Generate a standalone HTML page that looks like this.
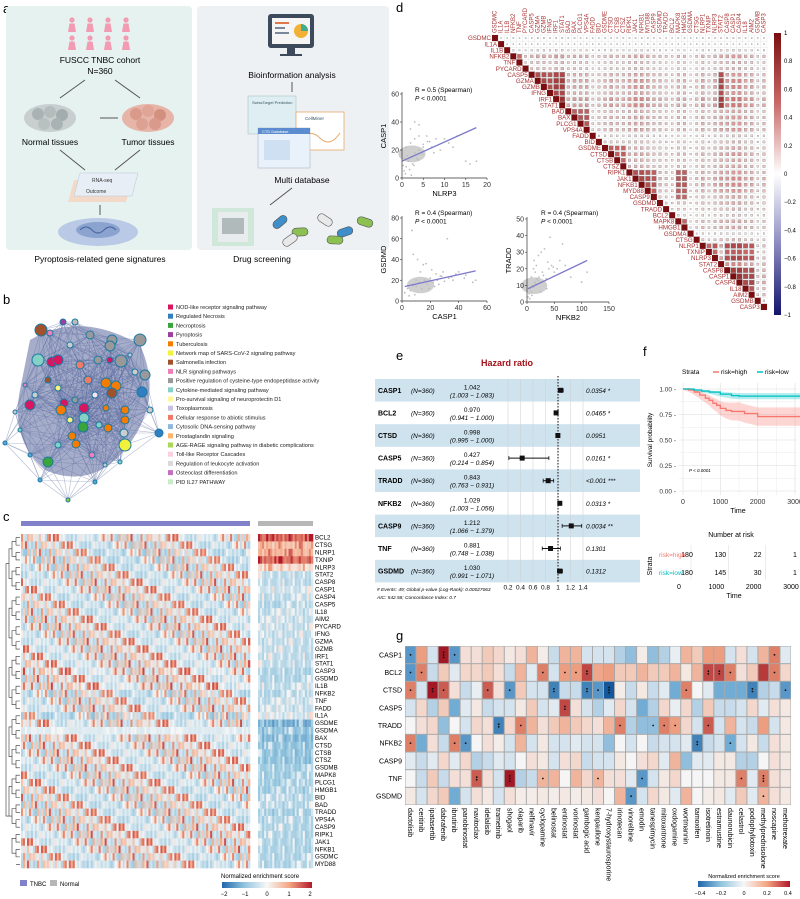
<!DOCTYPE html>
<html><head><meta charset="utf-8">
<style>
html,body{margin:0;padding:0;background:#fff;}
svg{display:block;font-family:"Liberation Sans",sans-serif;}
</style></head>
<body>
<svg id="fig" width="800" height="899" viewBox="0 0 800 899" xmlns="http://www.w3.org/2000/svg">
<!-- Panel a -->
<g>
  <text x="3" y="13" font-size="13">a</text>
  <rect x="6" y="6" width="186" height="244" rx="4" fill="#e5f2f0"/>
  <rect x="197" y="6" width="192" height="244" rx="4" fill="#eef1f4"/>
  <g id="people"></g>
  <text x="100" y="63" font-size="8.5" text-anchor="middle">FUSCC TNBC cohort</text>
  <text x="100" y="74" font-size="8.5" text-anchor="middle">N=360</text>
  <path d="M85 80 L60 98 M115 80 L140 98" stroke="#555" stroke-width="1" fill="none"/>
  <g>
    <ellipse cx="50" cy="118" rx="26" ry="14" fill="#c9cfcf"/>
    <circle cx="38" cy="114" r="6" fill="#aab3b3"/><circle cx="50" cy="112" r="6" fill="#b5bcbc"/><circle cx="62" cy="115" r="6" fill="#a3adad"/><circle cx="44" cy="124" r="6" fill="#b9c0c0"/><circle cx="57" cy="124" r="6" fill="#aab3b3"/>
  </g>
  <g>
    <ellipse cx="148" cy="118" rx="26" ry="14" fill="#e7b4a8"/>
    <circle cx="136" cy="114" r="6" fill="#d99a8c"/><circle cx="148" cy="111" r="6" fill="#e0a596"/><circle cx="160" cy="115" r="6" fill="#d3907f"/><circle cx="142" cy="124" r="6" fill="#dca193"/><circle cx="155" cy="124" r="6" fill="#d99a8c"/>
  </g>
  <text x="50" y="145" font-size="8.5" text-anchor="middle">Normal tissues</text>
  <text x="148" y="145" font-size="8.5" text-anchor="middle">Tumor tissues</text>
  <path d="M100 118 L118 118 M60 150 L85 170 M140 150 L115 170 M100 205 L100 215" stroke="#555" stroke-width="1" fill="none"/>
  <g>
    <polygon points="68,202 126,202 132,180 74,180" fill="#f3d9c8"/>
    <polygon points="74,196 132,196 138,173 80,173" fill="#e7eef5" stroke="#b9c7d6" stroke-width="0.5"/>
    <text x="92" y="182" font-size="5" fill="#333">RNA-seq</text>
    <text x="86" y="193" font-size="5" fill="#333">Outcome</text>
  </g>
  <g>
    <ellipse cx="98" cy="232" rx="40" ry="14" fill="#b9c9e6"/>
    <ellipse cx="98" cy="230" rx="22" ry="8" fill="#8aa3cf"/>
    <path d="M80 230 q6 -6 12 0 t12 0 t12 0" stroke="#4e6aa5" fill="none" stroke-width="1.2"/>
  </g>
  <text x="100" y="262" font-size="8.5" text-anchor="middle">Pyroptosis-related gene signatures</text>
  <g>
    <rect x="268" y="14" width="46" height="34" rx="3" fill="#3c4a5c"/>
    <rect x="272" y="18" width="38" height="26" fill="#f5f5f5"/>
    <rect x="275" y="22" width="14" height="2" fill="#e0784c"/><rect x="275" y="27" width="10" height="2" fill="#7a8899"/><rect x="275" y="32" width="14" height="2" fill="#7a8899"/>
    <circle cx="301" cy="31" r="7" fill="#f2b134"/><path d="M301 31 L301 24 A7 7 0 0 1 308 31 Z" fill="#3fae8c"/>
    <rect x="287" y="48" width="8" height="6" fill="#3c4a5c"/><rect x="280" y="54" width="22" height="2" fill="#3c4a5c"/>
  </g>
  <text x="292" y="78" font-size="8.5" text-anchor="middle">Bioinformation analysis</text>
  <path d="M292 82 L292 92" stroke="#555"/>
  <g>
    <rect x="248" y="96" width="48" height="38" fill="#dfeef2" stroke="#9bb" stroke-width="0.5"/>
    <text x="252" y="104" font-size="4" fill="#356">SwissTarget Prediction</text>
    <rect x="296" y="112" width="48" height="38" fill="#fff" stroke="#e8a76a" stroke-width="0.8"/>
    <text x="305" y="120" font-size="4.5" fill="#356">CellMiner</text>
    <path d="M300 140 q10 -12 20 -2 t20 -5" stroke="#e8a76a" fill="none"/>
    <rect x="258" y="128" width="52" height="40" fill="#e9f1fb" stroke="#9ab" stroke-width="0.5"/>
    <rect x="258" y="128" width="52" height="6" fill="#5a8ccf"/>
    <text x="262" y="133" font-size="4" fill="#fff">CTD Database</text>
    <rect x="264" y="140" width="26" height="20" fill="#cfe0f2"/>
  </g>
  <text x="302" y="183" font-size="8.5" text-anchor="middle">Multi database</text>
  <path d="M292 188 L270 205" stroke="#555"/>
  <g>
    <rect x="212" y="208" width="42" height="38" fill="#cfe8d9"/>
    <rect x="218" y="212" width="30" height="30" fill="#e8ecec"/>
    <rect x="222" y="218" width="22" height="16" fill="#8a9a9a" opacity="0.6"/>
    <g id="pills"></g>
  </g>
  <text x="262" y="262" font-size="8.5" text-anchor="middle">Drug screening</text>
</g>

<!-- Panel b -->
<g>
  <text x="3" y="304" font-size="13">b</text>
  <g id="network"></g>
  <g id="blegend"></g>
</g>

<!-- Panel c -->
<g>
  <text x="3" y="521" font-size="13">c</text>
  <rect x="21" y="521" width="229" height="5" fill="#8181c9"/>
  <rect x="258" y="521" width="55" height="5" fill="#b7b7b7"/>
  <g id="heatc"></g>
  <g id="dendro"></g>
  <g id="cgenes"></g>
  <rect x="20" y="880" width="7" height="6" fill="#8181c9"/>
  <text x="30" y="886" font-size="6">TNBC</text>
  <rect x="50" y="880" width="7" height="6" fill="#b7b7b7"/>
  <text x="60" y="886" font-size="6">Normal</text>
  <text x="221" y="878" font-size="6">Normalized enrichment score</text>
  <defs>
    <linearGradient id="rdbu" x1="0" x2="1" y1="0" y2="0">
      <stop offset="0" stop-color="#2166ac"/><stop offset="0.25" stop-color="#92c5de"/><stop offset="0.5" stop-color="#f7f7f7"/><stop offset="0.75" stop-color="#f4a582"/><stop offset="1" stop-color="#b2182b"/>
    </linearGradient>
    <linearGradient id="corrgrad" x1="0" x2="0" y1="0" y2="1">
      <stop offset="0" stop-color="#7a0d10"/><stop offset="0.25" stop-color="#c96a6a"/><stop offset="0.5" stop-color="#ffffff"/><stop offset="0.75" stop-color="#8a8ac0"/><stop offset="1" stop-color="#14146e"/>
    </linearGradient>
  </defs>
  <rect x="222" y="882" width="90" height="6" fill="url(#rdbu)"/>
  <g font-size="6" text-anchor="middle">
    <text x="224" y="896">−2</text><text x="245" y="896">−1</text><text x="267" y="896">0</text><text x="289" y="896">1</text><text x="310" y="896">2</text>
  </g>
</g>

<!-- Panel d -->
<g>
  <text x="396" y="12" font-size="13">d</text>
  <g id="corr"></g>
  <rect x="774" y="33" width="7" height="282" fill="url(#corrgrad)"/>
  <g id="corrticks" font-size="6"></g>
  <g id="scatters"></g>
</g>

<!-- Panel e -->
<g>
  <text x="396" y="360" font-size="13">e</text>
  <text x="507" y="366" font-size="9" font-weight="bold" fill="#a3111a" text-anchor="middle">Hazard ratio</text>
  <g id="forest"></g>
</g>

<!-- Panel f -->
<g>
  <text x="643" y="356" font-size="13">f</text>
  <g id="km"></g>
</g>

<!-- Panel g -->
<g>
  <text x="396" y="640" font-size="13">g</text>
  <g id="gheat"></g>
  <text x="744" y="878" font-size="5.5" text-anchor="middle">Normalized enrichment score</text>
  <rect x="698" y="881" width="92" height="6" fill="url(#rdbu)"/>
  <g font-size="5.5" text-anchor="middle">
    <text x="700" y="895">−0.4</text><text x="721" y="895">−0.2</text><text x="744" y="895">0</text><text x="767" y="895">0.2</text><text x="788" y="895">0.4</text>
  </g>
</g>
</svg>

<script>
const NS="http://www.w3.org/2000/svg";
function mk(parent,tag,attrs,text){const e=document.createElementNS(NS,tag);for(const k in attrs)e.setAttribute(k,attrs[k]);if(text!==undefined)e.textContent=text;parent.appendChild(e);return e;}
function lerp(a,b,t){return a+(b-a)*t;}
function hex(h){return [parseInt(h.substr(1,2),16),parseInt(h.substr(3,2),16),parseInt(h.substr(5,2),16)];}
function ramp(stops,t){t=Math.max(0,Math.min(1,t));const n=stops.length-1;const i=Math.min(n-1,Math.floor(t*n));const f=t*n-i;const a=hex(stops[i]),b=hex(stops[i+1]);return "rgb("+[0,1,2].map(k=>Math.round(lerp(a[k],b[k],f))).join(",")+")";}
const RDBU=["#2166ac","#92c5de","#f7f7f7","#f4a582","#b2182b"];
const RDBU_G=["#0b4f94","#6aa8d3","#f5f5f5","#ee9a7a","#9b0a1c"];
const CORR=["#14146e","#8a8ac0","#ffffff","#c96a6a","#7a0d10"];

/* ---------- panel a decorations ---------- */
const ppl=document.getElementById('people');
for(let r=0;r<2;r++)for(let i=0;i<4;i++){
  const x=72+i*18, y=20+r*18;
  mk(ppl,'circle',{cx:x,cy:y,r:2.6,fill:'#f29bb2'});
  mk(ppl,'path',{d:`M${x-4} ${y+12} L${x-2.5} ${y+3.5} L${x+2.5} ${y+3.5} L${x+4} ${y+12} Z`,fill:'#f29bb2'});
}
const pills=document.getElementById('pills');
[[280,222,'#3d8ec9'],[300,232,'#8cc152'],[325,220,'#e9e9e9'],[345,232,'#3d8ec9'],[365,222,'#8cc152'],[290,240,'#e9e9e9'],[335,240,'#8cc152']].forEach((p,i)=>{
  mk(pills,'rect',{x:p[0]-8,y:p[1]-4,width:16,height:8,rx:4,fill:p[2],stroke:'#555','stroke-width':0.6,transform:`rotate(${i*37%90-40} ${p[0]} ${p[1]})`});
});

/* ---------- panel b network ---------- */
const netNodes=[[41,330,6,'#a0522d'],[63,322,3,'#9b3fa0'],[75,322,3,'#bbb'],[50,333,3,'#f07fb5'],[90,335,4,'#999'],[112,340,5,'#999'],[110,346,5,'#999'],[140,340,6,'#999'],[38,360,6,'#86d1c5'],[52,362,5,'#d9155f'],[58,360,5,'#d9155f'],[80,365,4,'#f07a68'],[98,360,4,'#999'],[110,360,3,'#d9155f'],[121,361,6,'#999'],[145,375,5,'#999'],[106,383,5,'#f57c00'],[116,386,5,'#f57c00'],[112,393,5,'#a0522d'],[142,392,5,'#2f7fc1'],[30,405,5,'#d9155f'],[64,403,4,'#d9155f'],[84,408,5,'#d9155f'],[84,418,5,'#86d1c5'],[106,408,3,'#f57c00'],[61,410,5,'#f57c00'],[75,400,3,'#999'],[125,410,4,'#f57c00'],[125,420,4,'#f57c00'],[83,427,5,'#3aa53a'],[99,425,3,'#86d1c5'],[108,428,4,'#f57c00'],[124,433,4,'#ccc'],[125,445,6,'#f2f23a'],[159,433,4,'#2f7fc1'],[72,436,4,'#f57c00'],[76,444,4,'#f57c00'],[48,462,5,'#3aa53a'],[5,443,2,'#5aa7d8'],[68,500,2,'#9acd32'],[95,482,2,'#5aa7d8'],[40,480,2,'#5aa7d8'],[20,430,2,'#86d1c5'],[15,412,2,'#ccc'],[25,385,2,'#f07fb5'],[35,395,3,'#ccc'],[58,388,3,'#fff27a'],[95,395,3,'#ffe4f0'],[130,355,2,'#ccc'],[70,345,3,'#ccc'],[58,445,3,'#86d1c5'],[92,455,3,'#f07fb5'],[105,465,2,'#ccc'],[120,462,2,'#86d1c5'],[30,455,2,'#5aa7d8'],[150,410,3,'#ccc'],[135,372,3,'#ccc'],[48,380,3,'#a0522d'],[88,380,4,'#f07a68'],[70,420,3,'#fff27a']];
const net=document.getElementById('network');
mk(net,'path',{d:'M30 340 Q80 310 140 345 Q165 400 125 450 Q90 490 45 470 Q10 440 20 390 Z',fill:'#5b6a9e',opacity:0.55});
for(let i=0;i<netNodes.length;i++)for(let j=i+1;j<netNodes.length;j++){
  const a=netNodes[i],b=netNodes[j];const d=Math.hypot(a[0]-b[0],a[1]-b[1]);
  if(d<60)mk(net,'line',{x1:a[0],y1:a[1],x2:b[0],y2:b[1],stroke:'#5b6a9e','stroke-width':0.6,opacity:0.45});
}
netNodes.forEach((n,i)=>{const c=mk(net,'circle',{cx:n[0],cy:n[1],r:n[2],fill:n[3],stroke:'#1b7aa5','stroke-width':1});

});

const legendNames=["NOD-like receptor signaling pathway","Regulated Necrosis","Necroptosis","Pyroptosis","Tuberculosis","Network map of SARS-CoV-2 signaling pathway","Salmonella infection","NLR signaling pathways","Positive regulation of cysteine-type endopeptidase activity","Cytokine-mediated signaling pathway","Pro-survival signaling of neuroprotectin D1","Toxoplasmosis","Cellular response to abiotic stimulus","Cytosolic DNA-sensing pathway","Prostaglandin signaling","AGE-RAGE signaling pathway in diabetic complications","Toll-like Receptor Cascades","Regulation of leukocyte activation","Osteoclast differentiation","PID IL27 PATHWAY"];
const legendColors=["#d9155f","#2f7fc1","#3aa53a","#9b3fa0","#f57c00","#f2f23a","#a0522d","#f07fb5","#999999","#86d1c5","#fff79a","#c7c0e3","#f07a68","#8fb8de","#fdb36b","#a6d854","#fbcfe0","#d9d9d9","#c36fc4","#c8ecc8"];
const bl=document.getElementById('blegend');
legendNames.forEach((n,i)=>{const y=309+i*9.2;
 const s=mk(bl,'rect',{x:168,y:y-4.5,width:5,height:5,fill:legendColors[i]});
 
 
 const t=mk(bl,'text',{x:176,y:y,'font-size':5.6,fill:'#222'},n);
 
 });

/* ---------- panel c heatmap ---------- */
const cGenes=["BCL2","CTSG","NLRP1","TXNIP","NLRP3","STAT2","CASP8","CASP1","CASP4","CASP5","IL18","AIM2","PYCARD","IFNG","GZMA","GZMB","IRF1","STAT1","CASP3","GSDMD","IL1B","NFKB2","TNF","FADD","IL1A","GSDME","GSDMA","BAX","CTSD","CTSB","CTSZ","GSDMB","MAPK8","PLCG1","HMGB1","BID","BAD","TRADD","VPS4A","CASP9","RIPK1","JAK1","NFKB1","GSDMC","MYD88"];
const cRowTumor=[0.0,-0.1,-0.2,-0.2,-0.1,-0.1,0.0,0.0,-0.1,-0.1,-0.1,0.0,0.0,-0.1,0.0,0.0,0.0,0.0,0.1,0.0,0.1,-0.2,-0.1,0.0,-0.3,0.0,-0.8,0.0,0.0,0.0,0.0,0.0,-0.1,0.0,-0.1,-0.1,-0.1,-0.1,-0.1,0.0,0.0,0.0,0.0,-0.1,-0.1];
const cRowNormal=[1.0,0.5,0.6,1.0,0.3,-0.3,-0.3,-0.2,-0.3,-0.4,-0.3,-0.3,-0.3,-0.3,-0.3,-0.3,-0.3,-0.3,-0.4,-0.4,-0.3,-0.4,-0.3,-0.3,-0.2,-0.8,-0.6,-0.7,-0.6,-0.6,-0.6,-0.5,-0.5,-0.5,-0.5,-0.4,-0.4,-0.5,-0.4,-0.4,-0.4,-0.4,-0.4,-0.4,-0.4];
const cColPattern=[1.6,-0.6,-0.3,0.9,-0.8,-0.2,2.0,-0.5,0.4,-0.9,-0.3,1.3,-0.6,0.2,-0.7,1.8,-0.4,-0.2,0.6,-1.0,-0.4,1.1,-0.5,0.3,-0.8,2.2,-0.6,-0.1,0.7,-0.9,-0.3,1.5,-0.7,0.1,-0.5,0.9,-1.1,-0.2,1.9,-0.4,0.5,-0.8,-0.3,1.2,-0.6,0.0,-0.9,1.7,-0.5,0.4,-0.7,-0.2,2.1,-0.6,0.3,-1.0,-0.4,0.8,-0.5,1.4];
const hc=document.getElementById('heatc');
const rowH=(868-534)/cGenes.length;
const nT=115,wT=229/nT;
for(let r=0;r<cGenes.length;r++){
  for(let c=0;c<nT;c++){
    let v=cRowTumor[r]+0.8*cColPattern[(c*7+r*11)%cColPattern.length];
    if(r===26) v=v*0.15-0.1;
    mk(hc,'rect',{x:(21+c*wT).toFixed(2),y:(534+r*rowH).toFixed(2),width:(wT+0.3).toFixed(2),height:(rowH+0.3).toFixed(2),fill:ramp(RDBU,(v/2.2+1)/2)});
  }
  const nN=27,wN=55/nN;
  for(let c=0;c<nN;c++){
    const v=cRowNormal[r]*1.6+0.35*cColPattern[(c*13+r*5)%cColPattern.length];
    mk(hc,'rect',{x:(258+c*wN).toFixed(2),y:(534+r*rowH).toFixed(2),width:(wN+0.3).toFixed(2),height:(rowH+0.3).toFixed(2),fill:ramp(RDBU,(v/2.2+1)/2)});
  }
  const t=mk(document.getElementById('cgenes'),'text',{x:315,y:(534+(r+0.75)*rowH).toFixed(2),'font-size':6.2},cGenes[r]);
  
  
}
const dg=document.getElementById('dendro');
let dpath='';
for(let r=0;r<cGenes.length;r+=2){const y1=534+(r+0.5)*rowH,y2=534+Math.min(r+1.5,cGenes.length-0.5)*rowH;dpath+=`M20 ${y1} H16 V${y2} H20 `;}
for(let r=0;r<cGenes.length-3;r+=4){const y1=534+(r+1)*rowH,y2=534+(r+3)*rowH;dpath+=`M16 ${y1} H12 V${y2} H16 `;}
for(let r=0;r<cGenes.length-7;r+=8){const y1=534+(r+2)*rowH,y2=534+(r+6)*rowH;dpath+=`M12 ${y1} H9 V${y2} H12 `;}
dpath+=`M9 ${534+4*rowH} H6 V${534+38*rowH} H9`;
mk(dg,'path',{d:dpath,stroke:'#333','stroke-width':0.6,fill:'none'});

/* ---------- panel d correlation matrix ---------- */
const dGenes=["GSDMC","IL1A","IL1B","NFKB2","TNF","PYCARD","CASP5","GZMA","GZMB","IFNG","IRF1","STAT1","BAD","BAX","PLCG1","VPS4A","FADD","BID","GSDME","CTSD","CTSB","CTSZ","RIPK1","JAK1","NFKB1","MYD88","CASP9","GSDMD","TRADD","BCL2","MAPK8","HMGB1","GSDMA","CTSG","NLRP1","TXNIP","NLRP3","STAT2","CASP8","CASP1","CASP4","IL18","AIM2","GSDMB","CASP3"];
const dLoad=[0.1,0.05,0.2,0.6,0.4,0.4,0.6,0.7,0.7,0.6,0.8,0.8,0.5,0.6,0.6,0.6,0.3,0.4,0.5,0.6,0.5,0.5,0.6,0.7,0.7,0.6,0.5,0.5,0.4,0.3,0.5,0.5,0.2,0.4,0.6,0.4,0.6,0.7,0.7,0.8,0.8,0.6,0.6,0.3,0.5];
const dCluster=[0,0,0,1,1,2,3,3,3,3,3,3,4,4,4,4,0,0,5,5,5,5,6,6,6,6,6,0,0,0,6,6,0,0,7,7,7,3,7,7,7,7,7,0,0];
const corr=document.getElementById('corr');
const cx0=492,cy0=35,cs=(767-492)/dGenes.length;
for(let i=0;i<dGenes.length;i++){
  for(let j=i;j<dGenes.length;j++){
    const x=cx0+j*cs,y=cy0+i*cs;
    mk(corr,'rect',{x:x.toFixed(2),y:y.toFixed(2),width:cs.toFixed(2),height:cs.toFixed(2),fill:'#fff',stroke:'#ddd','stroke-width':0.3});
    let v = (i===j)?1:dLoad[i]*dLoad[j]*0.7+((dCluster[i]===dCluster[j]&&dCluster[i]!==0)?0.35:0);
    v=Math.min(1,v);
    const s=(i===j)?cs:Math.max(1,cs*Math.sqrt(Math.abs(v))*0.95);
    const q=mk(corr,'rect',{x:(x+(cs-s)/2).toFixed(2),y:(y+(cs-s)/2).toFixed(2),width:s.toFixed(2),height:s.toFixed(2),fill:ramp(CORR,(v+1)/2),stroke:i===j?'none':'#777','stroke-width':0.3});
    
    
  }
  const rl=mk(corr,'text',{x:(cx0+i*cs-1).toFixed(2),y:(cy0+(i+0.85)*cs).toFixed(2),'font-size':6.2,fill:'#a83232','text-anchor':'end'},dGenes[i]);
  
  
  const cx=cx0+(i+0.75)*cs;
  const cl=mk(corr,'text',{x:cx.toFixed(2),y:33,'font-size':6,fill:'#a83232',transform:`rotate(-90 ${cx.toFixed(2)} 33)`},dGenes[i]);
  
  
}
const corrTicks=[1,0.8,0.6,0.4,0.2,0,-0.2,-0.4,-0.6,-0.8,-1];
const ct=document.getElementById('corrticks');
corrTicks.forEach(t=>{const y=33+(1-t)/2*282;mk(ct,'text',{x:784,y:y+2},String(t).replace('-','−'));});

const sc1X=[0.5,1,1.5,2,2.5,3,3.5,4,1,2,3,4,5,6,7,8,0.8,1.8,2.8,3.8,4.8,5.8,9,10,11,12,13,15,16,17.5,2,3,4,5,1.2,2.2,6.5,7.5,0.3,0.6];
const sc1Y=[5,8,12,15,10,18,14,20,22,25,28,30,24,26,22,28,3,6,9,13,17,30,20,28,25,22,30,12,10,12,35,40,38,22,16,2,26,18,9,14];
const sc2X=[2,4,6,8,10,12,14,16,18,20,22,25,28,30,33,36,40,45,50,52,5,9,13,17,21,24,27,8,11,15,19,23,26,29,32,7,10,35,38,44];
const sc2Y=[8,12,10,15,14,18,12,20,16,22,18,20,24,19,22,20,28,25,18,20,5,6,28,36,30,26,24,45,40,35,12,14,16,28,60,68,20,23,26,22];
const sc3X=[2,4,6,8,10,12,14,16,18,20,22,25,28,30,35,40,45,50,55,60,70,80,100,110,5,9,13,17,21,26,32,38,42,48,15,25,36,65,12,8];
const sc3Y=[3,5,8,6,10,9,12,11,14,13,15,12,18,16,14,20,22,18,20,25,22,15,12,18,2,4,25,22,28,30,32,24,39,21,18,6,8,35,20,15];
const scatterSpecs=[
 {xs:sc1X,ys:sc1Y,x0:402,x1:487,xmax:20,y0:178,y1:94,ymax:60,xt:[0,5,10,15,20],yt:[0,20,40,60],xl:'NLRP3',yl:'CASP1',r:'R = 0.5 (Spearman)',line:[0,12,17.5,36],tx:415,ty:92},
 {xs:sc2X,ys:sc2Y,x0:402,x1:487,xmax:60,y0:301,y1:218,ymax:80,xt:[0,20,40,60],yt:[0,20,40,60,80],xl:'CASP1',yl:'GSDMD',r:'R = 0.4 (Spearman)',line:[2,14,52,29],tx:415,ty:215},
 {xs:sc3X,ys:sc3Y,x0:527,x1:609,xmax:150,y0:302,y1:219,ymax:50,xt:[0,50,100,150],yt:[0,10,20,30,40,50],xl:'NFKB2',yl:'TRADD',r:'R = 0.4 (Spearman)',line:[2,8,110,25],tx:541,ty:215}
];
const scg=document.getElementById('scatters');
scatterSpecs.forEach((s,k)=>{
  const g=mk(scg,'g',{});
  
  
  const X=v=>s.x0+(s.x1-s.x0)*v/s.xmax, Y=v=>s.y0+(s.y1-s.y0)*v/s.ymax;
  mk(g,'ellipse',{cx:X(s.xs.slice(0,12).reduce((a,b)=>a+b)/12),cy:Y(s.ys.slice(0,12).reduce((a,b)=>a+b)/12),rx:(s.x1-s.x0)*0.16,ry:(s.y0-s.y1)*0.1,fill:'#cfcfcf'});
  s.xs.forEach((v,i)=>{const p=mk(g,'circle',{cx:X(v),cy:Y(s.ys[i]),r:0.9,fill:'#bdbdbd'});
    
    });
  mk(g,'line',{x1:X(s.line[0]),y1:Y(s.line[1]),x2:X(s.line[2]),y2:Y(s.line[3]),stroke:'#7b78c9','stroke-width':1.3});
  mk(g,'path',{d:`M${s.x0} ${s.y1-2} V${s.y0} H${s.x1}`,stroke:'#333','stroke-width':0.7,fill:'none'});
  s.xt.forEach(t=>{mk(g,'line',{x1:X(t),x2:X(t),y1:s.y0,y2:s.y0+2,stroke:'#333','stroke-width':0.6});mk(g,'text',{x:X(t),y:s.y0+9,'font-size':7,'text-anchor':'middle',fill:'#333'},t);});
  s.yt.forEach(t=>{mk(g,'line',{x1:s.x0-2,x2:s.x0,y1:Y(t),y2:Y(t),stroke:'#333','stroke-width':0.6});mk(g,'text',{x:s.x0-3,y:Y(t)+2.5,'font-size':7,'text-anchor':'end',fill:'#333'},t);});
  mk(g,'text',{x:(s.x0+s.x1)/2,y:s.y0+18,'font-size':7.5,'text-anchor':'middle'},s.xl);
  const yx=s.x0-16,yy=(s.y0+s.y1)/2;
  mk(g,'text',{x:yx,y:yy,'font-size':7.5,'text-anchor':'middle',transform:`rotate(-90 ${yx} ${yy})`},s.yl);
  mk(g,'text',{x:s.tx,y:s.ty,'font-size':6.5},s.r);
  const pt=mk(g,'text',{x:s.tx,y:s.ty+8.5,'font-size':6.5});
  mk(pt,'tspan',{'font-style':'italic'},'P');mk(pt,'tspan',{},' < 0.0001');
});

/* ---------- panel e forest ---------- */
const feGenes=["CASP1","BCL2","CTSD","CASP5","TRADD","NFKB2","CASP9","TNF","GSDMD"];
const feHR=[1.042,0.970,0.998,0.427,0.843,1.029,1.212,0.881,1.030];
const feLo=[1.003,0.941,0.995,0.214,0.763,1.003,1.066,0.748,0.991];
const feHi=[1.083,1.000,1.000,0.854,0.931,1.056,1.379,1.038,1.071];
const feP=["0.0354 *","0.0465 *","0.0951","0.0161 *","<0.001 ***","0.0313 *","0.0034 **","0.1301","0.1312"];
const feTicks=[0.2,0.4,0.6,0.8,1,1.2,1.4];
const fo=document.getElementById('forest');
const FX=v=>558+(v-1)*62.5;
const rowE=22.6, eTop=379;
feGenes.forEach((g,i)=>{const y=eTop+i*rowE;
  if(i%2===0) mk(fo,'rect',{x:375,y:y,width:265,height:rowE,fill:'#cfe3ef'});
});
feTicks.forEach(t=>{mk(fo,'line',{x1:FX(t),x2:FX(t),y1:eTop,y2:eTop+9*rowE,stroke:'#ccc','stroke-width':0.5});
  mk(fo,'text',{x:FX(t),y:eTop+9*rowE+7,'font-size':6.5,'text-anchor':'middle'},t);});
mk(fo,'line',{x1:FX(1),x2:FX(1),y1:eTop-3,y2:eTop+9*rowE,stroke:'#111','stroke-width':1,'stroke-dasharray':'1.5,1.5'});
feGenes.forEach((g,i)=>{const y=eTop+i*rowE, cy=y+rowE/2;
  const gt=mk(fo,'text',{x:378,y:cy+2.5,'font-size':7,'font-weight':'bold'},g);
  
  
  mk(fo,'text',{x:411,y:cy+2.5,'font-size':6.5,'font-style':'italic'},'(N=360)');
  mk(fo,'text',{x:472,y:cy-1,'font-size':6.5,'text-anchor':'middle'},feHR[i].toFixed(3));
  mk(fo,'text',{x:472,y:cy+7,'font-size':6.5,'text-anchor':'middle','font-style':'italic'},'('+feLo[i].toFixed(3)+' − '+feHi[i].toFixed(3)+')');
  mk(fo,'line',{x1:FX(feLo[i]),x2:FX(feHi[i]),y1:cy,y2:cy,stroke:'#111','stroke-width':1});
  mk(fo,'line',{x1:FX(feLo[i]),x2:FX(feLo[i]),y1:cy-2,y2:cy+2,stroke:'#111','stroke-width':0.8});
  mk(fo,'line',{x1:FX(feHi[i]),x2:FX(feHi[i]),y1:cy-2,y2:cy+2,stroke:'#111','stroke-width':0.8});
  const m=mk(fo,'rect',{x:FX(feHR[i])-2.5,y:cy-2.5,width:5,height:5,fill:'#111'});
  
  
  mk(fo,'text',{x:586,y:cy+2.5,'font-size':6.5,'font-style':'italic'},feP[i]);
});
mk(fo,'text',{x:377,y:591,'font-size':4.8,'font-style':'italic'},'# Events: 49; Global p-value (Log-Rank): 0.00027063');
mk(fo,'text',{x:377,y:599,'font-size':4.8,'font-style':'italic'},'AIC: 542.58; Concordance Index: 0.7');

/* ---------- panel f KM ---------- */
const kmHighT=[0,150,300,450,600,700,800,900,1000,1150,1300,1500,1650,2000,3150];
const kmHighS=[1,0.99,0.97,0.94,0.91,0.89,0.86,0.84,0.81,0.79,0.78,0.78,0.76,0.73,0.73];
const kmLowT=[0,300,500,700,1000,1300,1500,3150];
const kmLowS=[1,0.99,0.98,0.97,0.95,0.935,0.93,0.93];
const riskTimes=[0,1000,2000,3000];
const riskHigh=[180,130,22,1];
const riskLow=[180,145,30,1];
const km=document.getElementById('km');
const KX=t=>683+t*(795-683)/3000, KY=s=>491-s*(491-389);
mk(km,'rect',{x:679,y:383,width:118,height:112,fill:'#fff'});
[0,500,1000,1500,2000,2500,3000].forEach(t=>mk(km,'line',{x1:KX(t),x2:KX(t),y1:383,y2:495,stroke:'#e6e6e6','stroke-width':t%1000?0.4:0.8}));
[0,0.125,0.25,0.375,0.5,0.625,0.75,0.875,1].forEach(s=>mk(km,'line',{x1:679,x2:797,y1:KY(s),y2:KY(s),stroke:'#e6e6e6','stroke-width':(s*4)%1?0.4:0.8}));
function stepPath(T,S,off){let d=`M${KX(T[0])} ${KY(S[0]+off)}`;for(let i=1;i<T.length;i++){d+=` H${KX(T[i])} V${KY(S[i]+off)}`;}return d;}
function band(T,S,w,col){let up=[],lo=[];for(let i=0;i<T.length;i++){const ww=w*Math.min(1,T[i]/1500+0.1);up.push([KX(T[i]),KY(S[i]+ww)]);lo.push([KX(T[i]),KY(S[i]-ww)]);}
 let d='M'+up.map(p=>p.join(' ')).join(' L')+' L'+lo.reverse().map(p=>p.join(' ')).join(' L')+' Z';mk(km,'path',{d:d,fill:col,opacity:0.3});}
band(kmHighT,kmHighS,0.09,'#f8766d');band(kmLowT,kmLowS,0.03,'#00bfc4');
const hl=mk(km,'path',{d:stepPath(kmHighT,kmHighS,0),stroke:'#f8766d','stroke-width':1.3,fill:'none'});


const ll=mk(km,'path',{d:stepPath(kmLowT,kmLowS,0),stroke:'#00bfc4','stroke-width':1.3,fill:'none'});


[0,0.25,0.5,0.75,1].forEach(s=>{mk(km,'text',{x:676,y:KY(s)+2.5,'font-size':6.5,'text-anchor':'end',fill:'#333'},s.toFixed(2)+' -');});
[0,1000,2000,3000].forEach(t=>mk(km,'text',{x:KX(t),y:504,'font-size':7,'text-anchor':'middle',fill:'#333'},t));
mk(km,'text',{x:738,y:513,'font-size':7,'text-anchor':'middle'},'Time');
mk(km,'text',{x:652,y:440,'font-size':6.5,'text-anchor':'middle',transform:'rotate(-90 652 440)'},'Survival probability');
mk(km,'text',{x:689,y:472,'font-size':4.5,'font-style':'italic'},'P < 0.0001');
mk(km,'text',{x:682,y:374,'font-size':6.5},'Strata');
mk(km,'line',{x1:713,x2:719,y1:372,y2:372,stroke:'#f8766d','stroke-width':1.5});
mk(km,'text',{x:721,y:374,'font-size':6.5},'risk=high');
mk(km,'line',{x1:757,x2:763,y1:372,y2:372,stroke:'#00bfc4','stroke-width':1.5});
mk(km,'text',{x:765,y:374,'font-size':6.5},'risk=low');
mk(km,'text',{x:731,y:537,'font-size':7,'text-anchor':'middle'},'Number at risk');
[0,1000,2000,3000].forEach(t=>{mk(km,'line',{x1:KX(t)+8,x2:KX(t)+8,y1:545,y2:580,stroke:'#e0e0e0','stroke-width':0.6});});
riskTimes.forEach((t,i)=>{
  mk(km,'text',{x:KX(t)+(i===0?4:0),y:557,'font-size':7,'text-anchor':'middle'},riskHigh[i]);
  mk(km,'text',{x:KX(t)+(i===0?4:0),y:575,'font-size':7,'text-anchor':'middle'},riskLow[i]);
  mk(km,'text',{x:KX(t)-4,y:589,'font-size':7,'text-anchor':'middle'},t);
});
mk(km,'text',{x:659,y:557,'font-size':6.5,fill:'#f8766d'},'risk=high');
mk(km,'text',{x:659,y:575,'font-size':6.5,fill:'#00bfc4'},'risk=low');
mk(km,'text',{x:652,y:566,'font-size':7,'text-anchor':'middle',transform:'rotate(-90 652 566)'},'Strata');
mk(km,'text',{x:734,y:598,'font-size':7,'text-anchor':'middle'},'Time');

/* ---------- panel g drug heatmap ---------- */
const gRows=["CASP1","BCL2","CTSD","CASP5","TRADD","NFKB2","CASP9","TNF","GSDMD"];
const gDrugs=["dactolisib","ceritinib","ipatasertib","dabrafenib","ibrutinib","panobinostat","navitoclax","idelalisib","trametinib","shogaol","olaparib","nelfinavir","cyclopamine","belinostat","entinostat","vorinostat","gambogic acid","kenpaullone","7-hydroxystaurosporine","irinotecan","vinorelbine","emodin","tanespimycin","mitoxantrone","oxdogamine","wortmannin","tamoxifen","isotretinoin","estramustine","daunorubicin","celastrol","podophyllotoxin","methylprednisolone","noscapine","methotrexate"];
const nesCASP1=[-.25,.2,-.05,.4,-.25,.05,.05,.1,.07,.03,.05,.15,.02,-.07,.15,.15,-.05,-.05,-.05,-.1,-.15,.02,-.15,-.1,-.02,.15,.1,.2,.2,-.05,.05,-.05,.15,.25,-.03];
const nesBCL2=[-.25,.25,-.07,.1,-.03,.07,.07,.1,.05,-.07,.15,-.03,.25,-.05,.2,.2,.33,.18,.2,.1,.1,.15,.1,.1,.15,.03,.15,.33,.33,.25,.05,.1,.35,.25,.07];
const nesCTSD=[.25,-.05,.4,.3,.05,-.07,-.02,.3,.05,-.25,.1,-.05,-.05,-.3,-.07,-.07,-.3,-.25,-.4,.02,-.07,.03,-.07,-.03,-.2,.25,0,-.03,-.2,-.2,-.2,-.3,-.1,-.07,-.25];
const nesCASP5=[-.05,.07,-.1,.1,-.2,-.03,.03,-.07,-.05,-.05,.03,.1,-.05,-.03,.33,.05,-.05,-.1,-.03,.07,-.05,-.2,-.1,.07,-.02,.07,-.1,.1,-.07,-.07,-.05,.07,-.03,.05,.03];
const nesTRADD=[0,.05,.07,-.15,0,-.05,.07,.05,-.3,.07,.25,.15,.05,.1,.15,.1,.07,.05,.15,.25,-.1,-.15,-.15,.25,.2,.07,-.05,.3,-.05,.15,-.05,-.07,.2,-.05,.03];
const nesNFKB2=[.25,-.2,.05,-.07,.25,-.25,0,.05,.02,-.05,.15,-.05,.03,-.05,-.05,-.03,-.05,-.05,-.15,0,-.05,0,-.07,-.05,-.05,-.03,-.3,-.07,-.05,-.2,-.05,.03,-.07,.05,.03];
const nesCASP9=[-.03,-.07,-.03,.07,-.03,.07,-.1,-.07,-.03,-.05,0,.05,.03,-.05,.05,.07,-.07,-.05,-.05,.03,0,.05,.07,-.03,.15,-.15,-.03,-.03,.03,.03,-.1,-.1,0,.05,.03];
const nesTNF=[0,-.07,.1,-.07,.05,.05,.3,.05,-.05,.4,-.1,-.07,.15,.15,0,.15,.07,.15,.05,.05,-.03,-.25,-.05,.03,.07,0,0,0,.03,.03,.25,-.03,.25,.05,.03];
const nesGSDMD=[.03,-.05,.07,.1,-.2,-.05,.05,.03,-.05,.05,.02,.02,.03,.02,.03,.02,.03,.05,0,.15,-.25,-.05,.07,.03,-.03,.15,0,.02,.03,-.03,.1,-.03,.15,.05,.03];
const sigCASP1=[1,0,0,3,1,0,0,0,0,0,0,0,0,0,0,0,0,0,0,0,0,0,0,0,0,0,0,0,0,0,0,0,0,1,0];
const sigBCL2=[1,1,0,0,0,0,0,0,0,0,0,0,1,0,1,1,2,0,0,0,0,0,0,0,0,0,0,2,2,1,0,0,0,1,0];
const sigCTSD=[1,0,2,1,0,0,0,1,0,1,0,0,0,2,0,0,2,1,3,0,0,0,0,0,0,1,0,0,0,0,0,2,0,0,1];
const sigCASP5=[0,0,0,0,0,0,0,0,0,0,0,0,0,0,2,0,0,0,0,0,0,0,0,0,0,0,0,0,0,0,0,0,0,0,0];
const sigTRADD=[0,0,0,0,0,0,0,0,2,0,1,0,0,0,0,0,0,0,0,1,0,0,1,1,1,0,0,1,0,0,0,0,0,0,0];
const sigNFKB2=[1,0,0,0,1,1,0,0,0,0,0,0,0,0,0,0,0,0,0,0,0,0,0,0,0,0,2,0,0,1,0,0,0,0,0];
const sigCASP9=[0,0,0,0,0,0,0,0,0,0,0,0,0,0,0,0,0,0,0,0,0,0,0,0,0,0,0,0,0,0,0,0,0,0,0];
const sigTNF=[0,0,0,0,0,0,2,0,0,3,0,0,1,0,0,0,0,1,0,0,0,1,0,0,0,0,0,0,0,0,1,0,3,0,0];
const sigGSDMD=[0,0,0,0,0,0,0,0,0,0,0,0,0,0,0,0,0,0,0,0,1,0,0,0,0,0,0,0,0,0,0,0,1,0,0];
const gVals=[nesCASP1,nesBCL2,nesCTSD,nesCASP5,nesTRADD,nesNFKB2,nesCASP9,nesTNF,nesGSDMD];
const gSig=[sigCASP1,sigBCL2,sigCTSD,sigCASP5,sigTRADD,sigNFKB2,sigCASP9,sigTNF,sigGSDMD];
const gh=document.getElementById('gheat');
const gx0=405,gx1=791,gy0=646,gy1=805;
const gw=(gx1-gx0)/gDrugs.length, ghh=(gy1-gy0)/gRows.length;
mk(gh,'rect',{x:gx0,y:gy0,width:gx1-gx0,height:gy1-gy0,fill:'#a8a8a8'});
gRows.forEach((r,i)=>{
  const lt=mk(gh,'text',{x:gx0-3,y:gy0+(i+0.5)*ghh+2.5,'font-size':7,'text-anchor':'end'},r);
  
  
  gDrugs.forEach((d,j)=>{
    const v=gVals[i][j];
    const c=mk(gh,'rect',{x:(gx0+j*gw+0.5).toFixed(2),y:(gy0+i*ghh+0.5).toFixed(2),width:(gw-1).toFixed(2),height:(ghh-1).toFixed(2),fill:ramp(RDBU_G,(v/0.42+1)/2)});
    
    
    const n=gSig[i][j];
    for(let k=0;k<n;k++){mk(gh,'circle',{cx:(gx0+(j+0.5)*gw).toFixed(2),cy:(gy0+(i+0.5)*ghh+(k-(n-1)/2)*2.6).toFixed(2),r:0.9,fill:'#111'});}
  });
});
gDrugs.forEach((d,j)=>{const x=gx0+(j+0.5)*gw-2.5;
  const t=mk(gh,'text',{x:x.toFixed(2),y:808,'font-size':7,transform:`rotate(90 ${x.toFixed(2)} 808)`},d);
  
  });
</script>
</body></html>
